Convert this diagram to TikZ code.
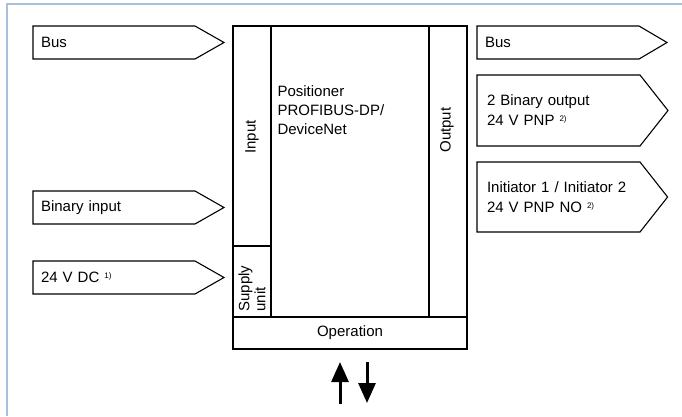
\documentclass[tikz,border=0pt]{standalone}
\usepackage{fontspec}
\setmainfont{Liberation Sans}
\usetikzlibrary{positioning,shapes.symbols,arrows.meta}
\definecolor{framecol}{RGB}{166,192,222}
\newcommand{\fnmark}[1]{\raisebox{0.55ex}{\fontsize{8}{8}\selectfont #1}}

\begin{document}
\begin{tikzpicture}[
  x=1pt, y=-1pt,
  line width=1.1pt,
  font=\fontsize{15}{20}\selectfont,
  sigbox/.style={draw,shape=signal,signal to=east,align=left,inner xsep=8pt,inner ysep=0pt,
    outer sep=0pt,text width=146pt,minimum height=33pt,signal pointer angle=59.3},
  sigtall/.style={sigbox,inner xsep=10pt,text width=143pt,signal pointer angle=103.5},
  block/.style={draw,rectangle,inner sep=0pt,outer sep=0pt,anchor=north west},
  vlabel/.style={rotate=90}
]
\useasboundingbox (0,0) rectangle (682,416);
\draw[framecol,line width=2pt] (7,416) -- (7,4) -- (682,4);

% signals in
\node[sigbox,anchor=west] (busin) at (33,42.5) {Bus};
\node[sigbox,anchor=west] (binin) at (33,207.5) {Binary input};
\node[sigbox,anchor=west] (supplyin) at (33,277.5) {24 V DC \fnmark{1)}};

% positioner block
\node[block,minimum width=38pt,minimum height=220pt] (input) at (233,26) {};
\node[block,minimum width=38pt,minimum height=71pt] (supply) at (233,246) {};
\node[block,minimum width=158pt,minimum height=291pt] (core) at (271,26) {};
\node[block,minimum width=38pt,minimum height=291pt] (output) at (429,26) {};
\node[block,minimum width=234pt,minimum height=32pt,anchor=north west] (operation) at (233,317) {Operation};
\node[vlabel] (inputlbl) at (252,137) {Input};
\node[vlabel] (outputlbl) at (447,130) {Output};
\node[vlabel,anchor=west,align=left,inner sep=0pt,font=\fontsize{15}{16}\selectfont] (supplylbl) at (252,312) {Supply\\unit};
\node[anchor=north west,align=left,inner sep=0pt,font=\fontsize{15}{19}\selectfont] (corelbl) at (277,85) {Positioner\\PROFIBUS-DP/\\DeviceNet};

% signals out
\node[sigbox,anchor=west,signal pointer angle=61] (busout) at (477,42.5) {Bus};
\node[sigtall,anchor=west,minimum height=71pt] (binout) at (477,110.5) {2 Binary output\\24 V PNP \fnmark{2)}};
\node[sigtall,anchor=west,minimum height=70pt] (initout) at (477,197) {\mbox{Initiator 1 / Initiator 2}\\24 V PNP NO \fnmark{2)}};

% operation arrows
\coordinate (upfrom) at (340,404);
\coordinate (upto) at (340,362);
\coordinate (downfrom) at (367,362);
\coordinate (downto) at (367,403);
\draw[-{Triangle[width=17pt,length=20pt]},line width=3pt] (upfrom) -- (upto);
\draw[-{Triangle[width=17pt,length=20pt]},line width=3pt] (downfrom) -- (downto);
\end{tikzpicture}
\end{document}
